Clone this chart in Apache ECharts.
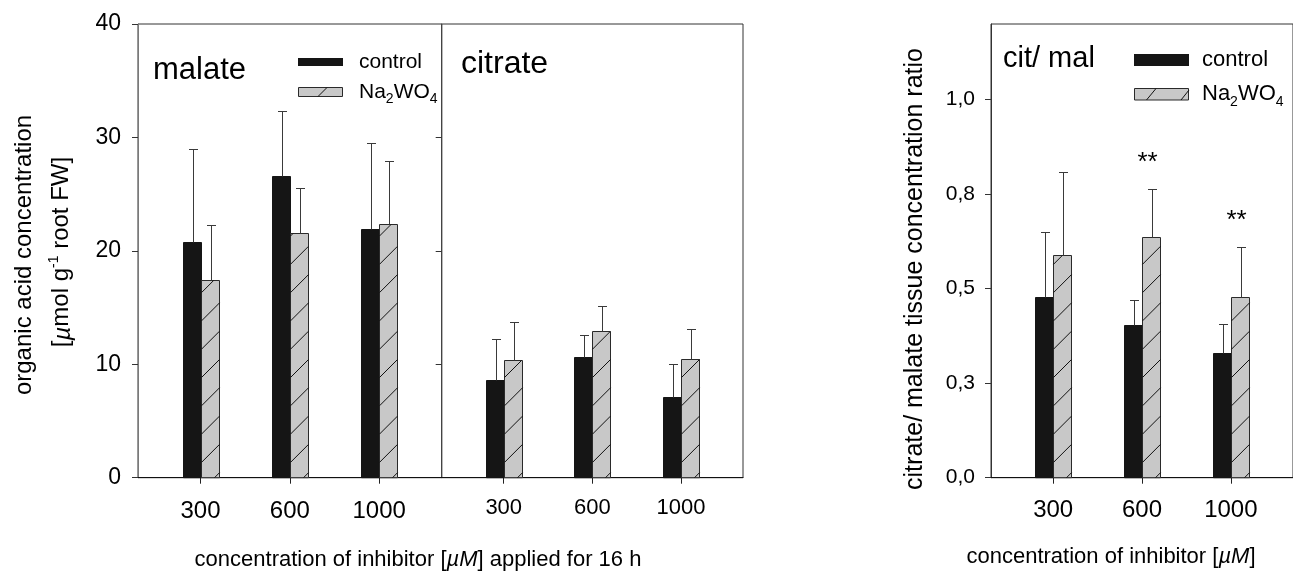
<!DOCTYPE html>
<html>
<head>
<meta charset="utf-8">
<script src="https://cdn.jsdelivr.net/npm/echarts@6/dist/echarts.min.js"></script>
<style>
  html, body { margin: 0; padding: 0; background: #fff; }
  #chart { width: 1293px; height: 573px; }
</style>
</head>
<body>
<div id="chart"></div>
<script>
// Inhibitor doses (µM)
const doses = ['300', '600', '1000'];

// Malate, µmol g-1 root FW (mean and upper SD)
const malateControl = [20.8, 26.6, 21.9];
const malateControlSd = [8.2, 5.7, 7.6];
const malateTungstate = [17.4, 21.6, 22.4];
const malateTungstateSd = [4.9, 3.9, 5.5];

// Citrate, µmol g-1 root FW
const citrateControl = [8.6, 10.6, 7.1];
const citrateControlSd = [3.6, 2.0, 2.9];
const citrateTungstate = [10.4, 12.9, 10.5];
const citrateTungstateSd = [3.3, 2.2, 2.6];

// Citrate / malate ratio
const ratioControl = [0.477, 0.405, 0.330];
const ratioControlSd = [0.173, 0.065, 0.077];
const ratioTungstate = [0.590, 0.637, 0.478];
const ratioTungstateSd = [0.219, 0.126, 0.131];
const ratioSignificance = ['', '**', '**'];

// Axis ticks
const acidTicks = [0, 10, 20, 30, 40];
const ratioTicks = [0, 0.25, 0.5, 0.75, 1.0];
const ratioTickLabels = ['0,0', '0,3', '0,5', '0,8', '1,0'];

const FONT = '"Liberation Sans", Arial, Helvetica, sans-serif';
const INK = '#000';
const CONTROL_FILL = '#151515';
const TUNGSTATE_FILL = '#c8c8c8';
const EDGE = '#2a2a2a';
const HATCH_STEP = 28.3;

const chart = echarts.init(document.getElementById('chart'), null, { renderer: 'canvas' });

// Diagonal "/" hatch clipped to a rectangle
function hatchLines(left, top, width, bottom, phase) {
  const out = [];
  const right = left + width;
  for (let yL = bottom + phase; yL - width > top - HATCH_STEP; yL -= HATCH_STEP) {
    let x1 = left, y1 = yL, x2 = right, y2 = yL - width;
    if (y1 > bottom) { x1 = left + (yL - bottom); y1 = bottom; }
    if (y2 < top) { x2 = left + (yL - top); y2 = top; }
    if (x2 - x1 > 0.5 && x1 < right && x2 > left) {
      out.push({
        type: 'line',
        shape: { x1: x1, y1: y1, x2: x2, y2: y2 },
        style: { stroke: '#111', lineWidth: 1 }
      });
    }
  }
  return out;
}

// Bar with upward error whisker; group 0 sits left of the tick, group 1 right
function makeRender(group, marks, markFont) {
  return function (params, api) {
    const x = api.value(0), v = api.value(1), sd = api.value(2);
    const base = api.coord([x, 0]);
    const top = api.coord([x, v]);
    const errTop = api.coord([x, v + sd]);
    const w = Math.round(api.size([1, 0])[0] * 0.2);
    const center = Math.round(base[0]);
    const left = (group === 0 ? center - w : center) + 0.5;
    const bottom = base[1];
    const topY = Math.round(top[1]) + 0.5;
    const cx = Math.round(left + w / 2) + 0.5;
    const children = [];
    children.push({
      type: 'rect',
      shape: { x: left, y: topY, width: w, height: bottom - topY },
      style: group === 0
        ? { fill: CONTROL_FILL, stroke: CONTROL_FILL, lineWidth: 1 }
        : { fill: TUNGSTATE_FILL, stroke: EDGE, lineWidth: 1 }
    });
    if (group === 1) {
      hatchLines(left, topY, w, bottom, 13).forEach(function (l) { children.push(l); });
    }
    const ey = Math.round(errTop[1]) + 0.5;
    children.push({ type: 'line', shape: { x1: cx, y1: topY, x2: cx, y2: ey }, style: { stroke: '#3a3a3a', lineWidth: 1 } });
    children.push({ type: 'line', shape: { x1: cx - 4.5, y1: ey, x2: cx + 4.5, y2: ey }, style: { stroke: '#3a3a3a', lineWidth: 1 } });
    if (marks && marks[params.dataIndex]) {
      children.push({
        type: 'text',
        style: {
          text: marks[params.dataIndex], x: cx - 5, y: ey - 27,
          align: 'center', verticalAlign: 'middle',
          font: markFont, fill: INK
        }
      });
    }
    return { type: 'group', children: children };
  };
}

function barSeries(axisIndex, means, sds, group, marks, markFont) {
  return {
    type: 'custom',
    xAxisIndex: axisIndex,
    yAxisIndex: axisIndex,
    clip: false,
    encode: { x: 0, y: 1 },
    data: means.map(function (m, i) { return [i + 1, m, sds[i]]; }),
    renderItem: makeRender(group, marks, markFont)
  };
}

const PLOT_TOP = 24;
const PLOT_H = 453.7;

function doseAxis(gridIndex, fontSize, margin) {
  return {
    type: 'value', gridIndex: gridIndex, min: 0.3, max: 3.7,
    splitLine: { show: false },
    axisLine: { show: true, onZero: false, lineStyle: { color: '#111', width: 1 } },
    axisTick: { show: true, customValues: [1, 2, 3], length: 6, lineStyle: { color: '#222' } },
    axisLabel: {
      show: true, customValues: [1, 2, 3], margin: margin,
      formatter: function (v) { return doses[Math.round(v) - 1]; },
      color: INK, fontFamily: FONT, fontSize: fontSize
    }
  };
}

// "Na2WO4" with lowered subscripts: main runs hang from the line top,
// subscripts sit on the line bottom
function subscriptText(size) {
  const sub = Math.round(size * 0.65);
  const lh = Math.round(0.95 * size + 5);
  return {
    text: '{n|Na}{s|2}{n|WO}{s|4}', verticalAlign: 'middle', fill: INK,
    rich: {
      n: { fontFamily: FONT, fontSize: size, lineHeight: lh, verticalAlign: 'top' },
      s: { fontFamily: FONT, fontSize: sub, lineHeight: lh, verticalAlign: 'bottom' }
    }
  };
}

const option = {
  backgroundColor: '#fff',
  animation: false,
  grid: [
    { left: 138, top: PLOT_TOP, width: 303.7, height: PLOT_H, show: true, borderColor: '#333', borderWidth: 1, backgroundColor: 'transparent' },
    { left: 441.7, top: PLOT_TOP, width: 301.3, height: PLOT_H, show: true, borderColor: '#333', borderWidth: 1, backgroundColor: 'transparent' },
    { left: 991, top: PLOT_TOP, width: 306, height: PLOT_H, show: true, borderColor: '#333', borderWidth: 1, backgroundColor: 'transparent' }
  ],
  xAxis: [
    doseAxis(0, 24, 22),
    doseAxis(1, 22, 19),
    doseAxis(2, 24, 21)
  ],
  yAxis: [
    {
      type: 'value', gridIndex: 0, min: 0, max: 40, interval: 10,
      splitLine: { show: false },
      axisLine: { show: true, lineStyle: { color: '#7a7a7a', width: 1 } },
      axisTick: { show: true, customValues: acidTicks, length: 6, lineStyle: { color: '#333' } },
      axisLabel: { customValues: acidTicks, color: INK, fontFamily: FONT, fontSize: 23, margin: 17 }
    },
    {
      type: 'value', gridIndex: 1, min: 0, max: 40, interval: 10, show: false
    },
    {
      type: 'value', gridIndex: 2, min: 0, max: 1.2,
      splitLine: { show: false },
      axisLine: { show: true, lineStyle: { color: '#333', width: 1 } },
      axisTick: { show: true, customValues: ratioTicks, length: 6, lineStyle: { color: '#333' } },
      axisLabel: {
        customValues: ratioTicks, color: INK, fontFamily: FONT, fontSize: 21, margin: 16,
        formatter: function (v) { return ratioTickLabels[ratioTicks.indexOf(v)]; }
      }
    },
    {
      // inward ticks on the malate / citrate divider
      type: 'value', gridIndex: 0, position: 'right', min: 0, max: 40, interval: 10,
      splitLine: { show: false },
      axisLine: { show: true, lineStyle: { color: '#444', width: 1 } },
      axisTick: { show: true, inside: true, customValues: [10, 20, 30], length: 6, lineStyle: { color: '#333' } },
      axisLabel: { show: false }
    }
  ],
  series: [
    barSeries(0, malateControl, malateControlSd, 0),
    barSeries(0, malateTungstate, malateTungstateSd, 1),
    barSeries(1, citrateControl, citrateControlSd, 0),
    barSeries(1, citrateTungstate, citrateTungstateSd, 1),
    barSeries(2, ratioControl, ratioControlSd, 0),
    barSeries(2, ratioTungstate, ratioTungstateSd, 1, ratioSignificance, '26px ' + FONT)
  ],
  graphic: [
    // panel names
    { type: 'text', x: 153, y: 70, style: { text: 'malate', font: '31px ' + FONT, fill: INK, verticalAlign: 'middle' } },
    { type: 'text', x: 461, y: 64.5, style: { text: 'citrate', font: '32px ' + FONT, fill: INK, verticalAlign: 'middle' } },
    { type: 'text', x: 1003, y: 59, style: { text: 'cit/ mal', font: '29px ' + FONT, fill: INK, verticalAlign: 'middle' } },

    // legend, left
    { type: 'rect', shape: { x: 298, y: 58, width: 45, height: 8 }, style: { fill: CONTROL_FILL } },
    { type: 'rect', shape: { x: 298.5, y: 87.5, width: 44, height: 9 }, style: { fill: TUNGSTATE_FILL, stroke: EDGE, lineWidth: 1 } },
    { type: 'line', shape: { x1: 318, y1: 96.5, x2: 327, y2: 87.5 }, style: { stroke: '#111', lineWidth: 1 } },
    { type: 'text', x: 359, y: 62, style: { text: 'control', font: '21px ' + FONT, fill: INK, verticalAlign: 'middle' } },
    { type: 'text', x: 359, y: 94, style: subscriptText(21) },

    // legend, right
    { type: 'rect', shape: { x: 1134, y: 54, width: 55, height: 12 }, style: { fill: CONTROL_FILL } },
    { type: 'rect', shape: { x: 1134.5, y: 88.5, width: 54, height: 11.5 }, style: { fill: TUNGSTATE_FILL, stroke: EDGE, lineWidth: 1 } },
    { type: 'line', shape: { x1: 1146.5, y1: 100, x2: 1156, y2: 88.5 }, style: { stroke: '#111', lineWidth: 1 } },
    { type: 'line', shape: { x1: 1181, y1: 100, x2: 1189, y2: 90 }, style: { stroke: '#111', lineWidth: 1 } },
    { type: 'text', x: 1202, y: 60, style: { text: 'control', font: '22px ' + FONT, fill: INK, verticalAlign: 'middle' } },
    { type: 'text', x: 1202, y: 96, style: subscriptText(22) },

    // axis titles
    {
      type: 'text', x: 24.5, y: 255, rotation: Math.PI / 2,
      style: { text: 'organic acid concentration', font: '24px ' + FONT, fill: INK, align: 'center', verticalAlign: 'middle' }
    },
    {
      type: 'text', x: 61, y: 252, rotation: Math.PI / 2,
      style: {
        text: '[{i|µ}mol g{sup|-1} root FW]', align: 'center', verticalAlign: 'middle', fill: INK,
        font: '24px ' + FONT,
        rich: {
          i: { fontFamily: FONT, fontSize: 24, fontStyle: 'italic', lineHeight: 28, verticalAlign: 'bottom' },
          sup: { fontFamily: FONT, fontSize: 14, lineHeight: 28, verticalAlign: 'top', padding: [0, 0, 12, 0] }
        }
      }
    },
    {
      type: 'text', x: 915, y: 269, rotation: Math.PI / 2,
      style: { text: 'citrate/ malate tissue concentration ratio', font: '25px ' + FONT, fill: INK, align: 'center', verticalAlign: 'middle' }
    },
    {
      type: 'text', x: 418, y: 560,
      style: {
        text: 'concentration of inhibitor [{i|µM}] applied for 16 h', align: 'center', verticalAlign: 'middle', fill: INK,
        font: '22px ' + FONT,
        rich: { i: { fontFamily: FONT, fontSize: 22, fontStyle: 'italic' } }
      }
    },
    {
      type: 'text', x: 1111, y: 557,
      style: {
        text: 'concentration of inhibitor [{i|µM}]', align: 'center', verticalAlign: 'middle', fill: INK,
        font: '22px ' + FONT,
        rich: { i: { fontFamily: FONT, fontSize: 22, fontStyle: 'italic' } }
      }
    }
  ]
};

chart.setOption(option);
</script>
</body>
</html>
